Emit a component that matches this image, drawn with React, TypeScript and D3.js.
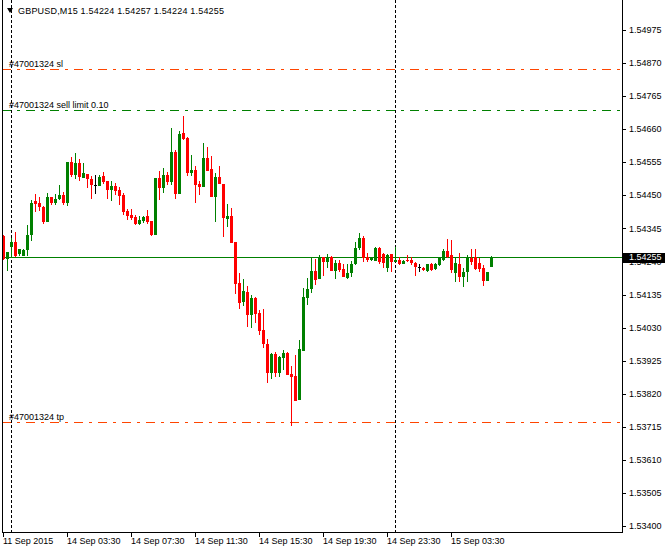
import React from 'react';
import * as d3 from 'd3';

// Bar data (M15), oldest first
const opens = [
  1.54322,1.54248,1.54287,1.54302,1.54264,1.54257,1.54276,1.54325,1.54432,1.54426,
  1.54413,1.54365,1.54445,1.54426,1.54438,1.54451,1.54426,1.54556,1.54515,1.54553,
  1.54505,1.54518,1.54502,1.54483,1.54480,1.54511,1.54496,1.54467,1.54480,1.54467,
  1.54451,1.54400,1.54388,1.54381,1.54359,1.54368,1.54384,1.54368,1.54324,1.54505,
  1.54473,1.54515,1.54492,1.54588,1.54454,1.54648,1.54632,1.54521,1.54530,1.54486,
  1.54476,1.54569,1.54534,1.54445,1.54508,1.54486,1.54375,1.54384,1.54302,1.54172,
  1.54111,1.54143,1.54070,1.54124,1.54076,1.54022,1.53978,1.53886,1.53946,1.53886,
  1.53933,1.53949,1.53883,1.53876,1.53800,1.53956,1.54124,1.54153,1.54210,1.54184,
  1.54254,1.54238,1.54254,1.54210,1.54235,1.54216,1.54188,1.54203,1.54232,1.54283,
  1.54315,1.54253,1.54245,1.54242,1.54283,1.54263,1.54220,1.54263,1.54239,1.54246,
  1.54233,1.54246,1.54244,1.54236,1.54223,1.54220,1.54210,1.54232,1.54216,1.54228,
  1.54246,1.54272,1.54261,1.54203,1.54232,1.54190,1.54207,1.54251,1.54254,1.54236,
  1.54220,1.54178,1.54224,
];
const highs = [
  1.54324,1.54270,1.54315,1.54334,1.54280,1.54280,1.54356,1.54435,1.54454,1.54445,
  1.54416,1.54457,1.54445,1.54454,1.54483,1.54461,1.54556,1.54572,1.54584,1.54565,
  1.54553,1.54518,1.54511,1.54515,1.54515,1.54524,1.54496,1.54496,1.54489,1.54476,
  1.54457,1.54407,1.54407,1.54388,1.54384,1.54384,1.54403,1.54368,1.54505,1.54527,
  1.54537,1.54524,1.54664,1.54594,1.54654,1.54702,1.54635,1.54578,1.54543,1.54496,
  1.54616,1.54603,1.54575,1.54521,1.54543,1.54486,1.54422,1.54410,1.54302,1.54203,
  1.54184,1.54162,1.54134,1.54127,1.54086,1.54089,1.53994,1.53949,1.53952,1.53940,
  1.53959,1.53952,1.53908,1.53943,1.53991,1.54156,1.54188,1.54251,1.54248,1.54261,
  1.54254,1.54264,1.54257,1.54245,1.54245,1.54232,1.54232,1.54241,1.54302,1.54330,
  1.54321,1.54267,1.54254,1.54286,1.54286,1.54267,1.54263,1.54263,1.54286,1.54254,
  1.54244,1.54261,1.54254,1.54239,1.54231,1.54222,1.54231,1.54235,1.54235,1.54254,
  1.54280,1.54311,1.54308,1.54250,1.54266,1.54218,1.54261,1.54280,1.54280,1.54250,
  1.54229,1.54207,1.54257,
];
const lows = [
  1.54245,1.54211,1.54251,1.54254,1.54257,1.54257,1.54257,1.54305,1.54397,1.54400,
  1.54359,1.54365,1.54419,1.54419,1.54435,1.54419,1.54416,1.54508,1.54502,1.54496,
  1.54505,1.54473,1.54438,1.54454,1.54480,1.54486,1.54438,1.54432,1.54451,1.54419,
  1.54388,1.54372,1.54372,1.54356,1.54356,1.54362,1.54359,1.54321,1.54324,1.54435,
  1.54457,1.54483,1.54483,1.54438,1.54454,1.54626,1.54511,1.54511,1.54426,1.54451,
  1.54476,1.54527,1.54445,1.54365,1.54486,1.54318,1.54349,1.54299,1.54137,1.54089,
  1.54099,1.54032,1.54029,1.54045,1.54007,1.53965,1.53854,1.53867,1.53873,1.53873,
  1.53895,1.53879,1.53718,1.53797,1.53800,1.53956,1.54102,1.54140,1.54165,1.54184,
  1.54194,1.54219,1.54210,1.54184,1.54207,1.54191,1.54184,1.54191,1.54229,1.54276,
  1.54238,1.54239,1.54241,1.54242,1.54233,1.54220,1.54206,1.54208,1.54237,1.54229,
  1.54233,1.54237,1.54229,1.54195,1.54208,1.54210,1.54208,1.54210,1.54212,1.54225,
  1.54241,1.54250,1.54203,1.54174,1.54176,1.54160,1.54176,1.54229,1.54213,1.54208,
  1.54163,1.54178,1.54224,
];
const closes = [
  1.54248,1.54270,1.54302,1.54257,1.54280,1.54276,1.54324,1.54426,1.54422,1.54413,
  1.54365,1.54445,1.54426,1.54438,1.54451,1.54426,1.54556,1.54515,1.54553,1.54508,
  1.54521,1.54502,1.54483,1.54483,1.54508,1.54492,1.54467,1.54480,1.54464,1.54448,
  1.54397,1.54384,1.54378,1.54359,1.54372,1.54381,1.54365,1.54324,1.54505,1.54473,
  1.54515,1.54492,1.54588,1.54454,1.54645,1.54629,1.54521,1.54530,1.54483,1.54476,
  1.54569,1.54527,1.54445,1.54508,1.54486,1.54378,1.54384,1.54299,1.54168,1.54108,
  1.54146,1.54070,1.54124,1.54073,1.54019,1.53978,1.53886,1.53946,1.53886,1.53937,
  1.53949,1.53879,1.53873,1.53797,1.53962,1.54127,1.54153,1.54210,1.54181,1.54254,
  1.54238,1.54254,1.54210,1.54235,1.54213,1.54191,1.54203,1.54232,1.54283,1.54315,
  1.54251,1.54246,1.54251,1.54283,1.54237,1.54234,1.54261,1.54239,1.54246,1.54233,
  1.54241,1.54241,1.54235,1.54221,1.54223,1.54212,1.54231,1.54213,1.54233,1.54254,
  1.54272,1.54254,1.54213,1.54234,1.54190,1.54208,1.54251,1.54237,1.54217,1.54215,
  1.54178,1.54207,1.54255,
];

const xTickIndex = [0, 16, 32, 48, 64, 80, 96, 112];
const xTickLabels = ['11 Sep 2015', '14 Sep 03:30', '14 Sep 07:30', '14 Sep 11:30', '14 Sep 15:30', '14 Sep 19:30', '14 Sep 23:30', '15 Sep 03:30'];
const yTickValues = [1.54975, 1.5487, 1.54765, 1.5466, 1.54555, 1.5445, 1.54345, 1.5424, 1.54135, 1.5403, 1.53925, 1.5382, 1.53715, 1.5361, 1.53505, 1.534];
const separatorIndex = [2, 98];
const orderLabels = ['#47001324 sl', '#47001324 sell limit 0.10', '#47001324 tp'];
const orderPrices = [1.5485, 1.5472, 1.5373];
const orderColors = ['#ff4500', '#008000', '#ff4500'];
const symbolTitle = 'GBPUSD,M15  1.54224 1.54257 1.54224 1.54255';
const lastPrice = 1.54255;

const W = 665, H = 549;
const FONT = '"Liberation Sans", Arial, sans-serif';
const BULL = '#008000', BEAR = '#ff0000';

export default function App() {
  const left = 2, right = 622, bottom = 532;
  const y = d3.scaleLinear().domain([1.534, 1.54975]).range([526, 30]);
  const x = d3.scaleLinear().domain([0, 1]).range([3, 7]);
  const n = closes.length;
  const idx = d3.range(n);
  const lpY = Math.round(y(lastPrice));
  const boxTop = lpY - 4, boxH = 10;

  return (
    <svg width={W} height={H} style={{ position: 'absolute', left: 0, top: 0, background: '#fff' }} fontFamily={FONT}>
      <rect x={0} y={0} width={W} height={H} fill="#fff" />
      <defs>
        <clipPath id="plot"><rect x={left + 1} y={0} width={right - left - 1} height={bottom} /></clipPath>
        <clipPath id="axisclip"><rect x={right + 1} y={0} width={W - right} height={H} /></clipPath>
        <clipPath id="underbox"><rect x={right + 1} y={boxTop + boxH} width={W - right} height={20} /></clipPath>
      </defs>
      <g clipPath="url(#plot)" shapeRendering="crispEdges">
        {separatorIndex.map((i) => (
          <line key={'s' + i} x1={x(i) + 0.5} x2={x(i) + 0.5} y1={0} y2={bottom} stroke="#000" strokeDasharray="3,2" />
        ))}
        {orderPrices.map((p, k) => (
          <line key={'o' + k} x1={left} x2={right} y1={Math.round(y(p)) + 0.5} y2={Math.round(y(p)) + 0.5} stroke={orderColors[k]} strokeDasharray="9,6,3,6" />
        ))}
        <line x1={left} x2={right} y1={lpY + 0.5} y2={lpY + 0.5} stroke="#008000" />
        {idx.map((i) => {
          const o = opens[i], c = closes[i];
          const col = c > o ? BULL : c < o ? BEAR : '#000';
          const cx = x(i);
          const yTop = Math.round(y(Math.max(o, c)));
          const yBot = Math.round(y(Math.min(o, c)));
          return (
            <g key={i}>
              <rect x={cx} y={Math.round(y(highs[i]))} width={1} height={Math.max(1, Math.round(y(lows[i])) - Math.round(y(highs[i])))} fill={col} />
              <rect x={cx - 1} y={yTop} width={3} height={Math.max(1, yBot - yTop)} fill={col} />
            </g>
          );
        })}
      </g>
      {orderPrices.map((p, k) => (
        <text key={'t' + k} x={9} y={Math.round(y(p)) - 2.5} fontSize={9} fill="#000">{orderLabels[k]}</text>
      ))}
      <g shapeRendering="crispEdges">
        <line x1={left + 0.5} x2={left + 0.5} y1={0} y2={bottom + 1} stroke="#000" />
        <line x1={right + 0.5} x2={right + 0.5} y1={0} y2={bottom + 1} stroke="#000" />
        <line x1={left} x2={right + 1} y1={bottom + 0.5} y2={bottom + 0.5} stroke="#000" />
        {yTickValues.map((v) => (
          <line key={'yt' + v} x1={right + 1} x2={right + 4} y1={Math.round(y(v)) + 0.5} y2={Math.round(y(v)) + 0.5} stroke="#000" />
        ))}
        {xTickIndex.map((i) => (
          <line key={'xt' + i} x1={x(i) + 0.5} x2={x(i) + 0.5} y1={bottom} y2={bottom + 5} stroke="#000" />
        ))}
      </g>
      {yTickValues.map((v) => {
        const ty = y(v);
        const hidden = Math.abs(ty - lpY) < 9;
        return (
          <text key={'yl' + v} x={629} y={ty} dy="0.35em" fontSize={9} fill="#000" clipPath={hidden ? 'url(#underbox)' : undefined}>{v.toFixed(5)}</text>
        );
      })}
      {xTickIndex.map((i, k) => (
        <text key={'xl' + i} x={x(i)} y={544} fontSize={9} fill="#000">{xTickLabels[k]}</text>
      ))}
      <rect x={right + 1} y={boxTop} width={W - right} height={boxH} fill="#000" />
      <text x={629} y={y(lastPrice)} dy="0.35em" fontSize={9} fill="#fff">{lastPrice.toFixed(5)}</text>
      <polygon points="7,8 13,8 10,13" fill="#000" />
      <text x={18} y={11} dy="0.35em" fontSize={9} fill="#000" textLength={206} lengthAdjust="spacing">{symbolTitle}</text>
    </svg>
  );
}
